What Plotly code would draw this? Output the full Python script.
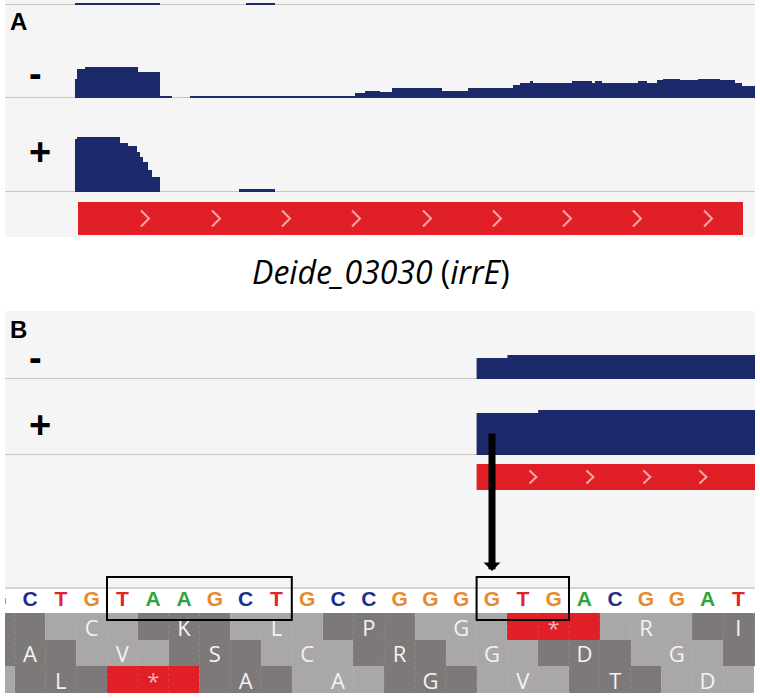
import plotly.graph_objects as go

W, H = 760, 698

# ---------------- DATA ----------------
# Panel A (positions along the irrE locus, relative units)
top_edges = [70, 155, 241, 270]
top_cov = [2, 0, 2]

minusA_edges = [70, 72, 80, 133, 155, 167, 185, 350, 360, 375, 387, 437, 463, 508, 515,
                525, 528, 567, 587, 590, 597, 633, 642, 652, 658, 675, 693, 715, 730, 737, 750]
minusA_cov = [19, 29, 31, 26, 2, 0, 2, 5, 7, 6, 10, 7, 10, 13, 15,
              17, 15, 17, 15, 17, 15, 17, 15, 18, 19, 18, 19, 18, 15, 12]

plusA_edges = [70, 72, 115, 123, 132, 135, 138, 143, 147, 155, 234, 270]
plusA_cov = [53, 55, 49, 46, 40, 35, 30, 22, 15, 0, 3]

geneA_start, geneA_end = 73, 738
geneA_chevrons = [140, 211, 281, 351, 422, 492, 562, 632, 703]

gene_label = "<i>Deide_03030</i> (<i>irrE</i>)"

# Panel B (base index)
seq_start = -1
sequence = "GCTGTAAGCTGCCGGGGTGACGGAT"

minusB_edges = [14.5, 15.5, 24.0]
minusB_cov = [21, 24]
plusB_edges = [14.5, 16.5, 24.0]
plusB_cov = [42, 45]

geneB_start, geneB_end = 14.5, 24.0
geneB_chevrons = [16.33, 18.18, 20.03, 21.85]

frame1_centers = [-1, 2, 5, 8, 11, 14, 17, 20, 23]
frame1_aa = ["", "C", "K", "L", "P", "G", "*", "R", "I"]
frame2_centers = [0, 3, 6, 9, 12, 15, 18, 21, 24]
frame2_aa = ["A", "V", "S", "C", "R", "G", "D", "G", ""]
frame3_centers = [-2, 1, 4, 7, 10, 13, 16, 19, 22]
frame3_aa = ["", "L", "*", "A", "A", "G", "V", "T", "D"]

boxes = [(3, 8), (15, 17)]   # boxed bases (first, last)
arrow_base = 15

# ---------------- STYLE ----------------
NAVY = "#1c2a6c"
RED = "#e01f27"
CHEV = "#f7a9a9"
BG = "#f5f5f5"
LINE = "#c6c6c6"
DARK = "#7d7979"
LIGHT = "#a9a7a7"
BASE_COL = {"A": "#2fa43a", "C": "#1f2e8e", "G": "#e8892f", "T": "#e3222a"}
AA_TEXT_DY = 0.14


def px(x):
    return x / W


def py(y):
    return 1 - y / H


def dom(top, bottom):
    return [py(bottom), py(top)]


BASE_PX, BASE0_PX = 30.8, 30.0
xB_range = [(5 - BASE0_PX) / BASE_PX, (755 - BASE0_PX) / BASE_PX]

fig = go.Figure()


def cov_trace(edges, cov, xa, ya):
    return go.Scatter(x=edges, y=list(cov) + [cov[-1]], mode="lines",
                      line=dict(shape="hv", width=0, color=NAVY),
                      fill="tozeroy", fillcolor=NAVY, xaxis=xa, yaxis=ya,
                      hoverinfo="skip", showlegend=False)


def gene_trace(s, e, xa, ya):
    return go.Scatter(x=[s, e, e, s, s], y=[0, 0, 1, 1, 0], mode="lines",
                      fill="toself", fillcolor=RED, line=dict(width=0, color=RED),
                      xaxis=xa, yaxis=ya, hoverinfo="skip", showlegend=False)


def chevron_trace(centers, w, h, xa, ya):
    xs, ys = [], []
    for c in centers:
        xs += [c - w, c + w, c - w, None]
        ys += [0.5 + h, 0.5, 0.5 - h, None]
    return go.Scatter(x=xs, y=ys, mode="lines", line=dict(color=CHEV, width=2),
                      xaxis=xa, yaxis=ya, hoverinfo="skip", showlegend=False)


# Panel A
fig.add_trace(cov_trace(top_edges, top_cov, "x", "y4"))
fig.add_trace(cov_trace(minusA_edges, minusA_cov, "x", "y"))
fig.add_trace(cov_trace(plusA_edges, plusA_cov, "x", "y2"))
fig.add_trace(gene_trace(geneA_start, geneA_end, "x", "y3"))
fig.add_trace(chevron_trace(geneA_chevrons, 4, 0.24, "x", "y3"))

# Panel B coverage + gene
fig.add_trace(cov_trace(minusB_edges, minusB_cov, "x2", "y5"))
fig.add_trace(cov_trace(plusB_edges, plusB_cov, "x2", "y6"))
fig.add_trace(gene_trace(geneB_start, geneB_end, "x2", "y7"))
fig.add_trace(chevron_trace(geneB_chevrons, 3.5 / BASE_PX, 0.25, "x2", "y7"))

# Sequence
seq_x = [seq_start + i for i in range(len(sequence))]
fig.add_trace(go.Scatter(x=seq_x, y=[0.5] * len(sequence), mode="text",
                         text=list(sequence),
                         textfont=dict(color=[BASE_COL[b] for b in sequence], size=21,
                                       family="Liberation Sans, Arial", weight="bold"),
                         xaxis="x2", yaxis="y8", hoverinfo="skip", showlegend=False))

# Translation frames
rows, bases, colors, tx, ty, tt, tc = [], [], [], [], [], [], []
for r, (cents, aas) in enumerate([(frame1_centers, frame1_aa),
                                  (frame2_centers, frame2_aa),
                                  (frame3_centers, frame3_aa)], start=1):
    for c, a in zip(cents, aas):
        rows.append(r)
        bases.append(c - 1.5)
        if a == "*":
            colors.append(RED)
        else:
            colors.append(DARK if ((c + 1) // 3) % 2 == 0 else LIGHT)
        tx.append(c)
        ty.append(r + AA_TEXT_DY)
        tt.append(a)
        tc.append("#f7b0b0" if a == "*" else "#f3f3f3")

fig.add_trace(go.Bar(orientation="h", y=rows, x=[3] * len(rows), base=bases, width=1,
                     marker=dict(color=colors, line=dict(width=0)),
                     xaxis="x2", yaxis="y9", hoverinfo="skip", showlegend=False))

sep_x, sep_y = [], []
for k in range(-2, 25):
    sep_x += [k + 0.5, k + 0.5, None]
    sep_y += [0.5, 3.5, None]
fig.add_trace(go.Scatter(x=sep_x, y=sep_y, mode="lines",
                         line=dict(color="rgba(255,255,255,0.13)", width=1, dash="dot"),
                         xaxis="x2", yaxis="y9", hoverinfo="skip", showlegend=False))

fig.add_trace(go.Scatter(x=tx, y=ty, mode="text", text=tt,
                         textfont=dict(color=tc, size=22, family="Open Sans"),
                         xaxis="x2", yaxis="y9", hoverinfo="skip", showlegend=False))

# ---------------- LAYOUT ----------------
hid = dict(visible=False, fixedrange=True)
layout = dict(
    width=W, height=H, margin=dict(l=0, r=0, t=0, b=0),
    paper_bgcolor="white", plot_bgcolor="rgba(0,0,0,0)",
    barmode="overlay", bargap=0, showlegend=False,
    xaxis=dict(domain=[px(5), px(755)], range=[0, 750], anchor="y", **hid),
    xaxis2=dict(domain=[px(5), px(755)], range=xB_range, anchor="y5", **hid),
    yaxis=dict(domain=dom(58, 98), range=[0, 40], anchor="x", **hid),
    yaxis2=dict(domain=dom(132, 192), range=[0, 60], anchor="x", **hid),
    yaxis3=dict(domain=dom(202, 235), range=[0, 1], anchor="x", **hid),
    yaxis4=dict(domain=dom(0, 5), range=[0, 5], anchor="x", **hid),
    yaxis5=dict(domain=dom(339, 379), range=[0, 40], anchor="x2", **hid),
    yaxis6=dict(domain=dom(400, 455), range=[0, 55], anchor="x2", **hid),
    yaxis7=dict(domain=dom(464, 490), range=[0, 1], anchor="x2", **hid),
    yaxis8=dict(domain=dom(589, 612), range=[0, 1], anchor="x2", **hid),
    yaxis9=dict(domain=dom(613, 693), range=[3.5, 0.5], anchor="x2", **hid),
)
fig.update_layout(**layout)

shapes = [
    dict(type="rect", xref="paper", yref="paper", x0=px(5), x1=px(755), y0=py(237), y1=py(0),
         fillcolor=BG, line=dict(width=0), layer="below"),
    dict(type="rect", xref="paper", yref="paper", x0=px(5), x1=px(755), y0=py(588), y1=py(311),
         fillcolor=BG, line=dict(width=0), layer="below"),
    dict(type="line", xref="paper", yref="paper", x0=px(5), x1=px(755), y0=py(588), y1=py(588),
         line=dict(color="#d4d4d4", width=2), layer="below"),
]
for ya in ["y4", "y", "y2", "y5", "y6"]:
    shapes.append(dict(type="line", xref="paper", yref=ya, x0=px(5), x1=px(755), y0=0, y1=0,
                       line=dict(color=LINE, width=2), layer="below"))
for b0, b1 in boxes:
    shapes.append(dict(type="rect", xref="x2", yref="paper", x0=b0 - 0.5, x1=b1 + 0.5,
                       y0=py(620), y1=py(577), line=dict(color="black", width=2),
                       fillcolor="rgba(0,0,0,0)", layer="above"))
fig.update_layout(shapes=shapes)

ann = []
lab = dict(family="Liberation Sans, Arial", color="black")
ann.append(dict(x=px(8), y=py(21), xref="paper", yref="paper", text="<b>A</b>", showarrow=False,
                xanchor="left", yanchor="middle", font=dict(size=24, **lab)))
ann.append(dict(x=px(8), y=py(330), xref="paper", yref="paper", text="<b>B</b>", showarrow=False,
                xanchor="left", yanchor="middle", font=dict(size=24, **lab)))
for (x, y, t) in [(35, 74, "-"), (40, 152, "+"), (35, 358, "-"), (40, 425, "+")]:
    ann.append(dict(x=px(x), y=py(y), xref="paper", yref="paper", text="<b>%s</b>" % t,
                    showarrow=False, xanchor="center", yanchor="middle",
                    font=dict(size=38, **lab)))
ann.append(dict(x=px(381), y=py(271), xref="paper", yref="paper", text=gene_label,
                showarrow=False, xanchor="center", yanchor="middle",
                font=dict(size=32, family="Open Sans", color="black")))
ann.append(dict(x=arrow_base, y=py(571), xref="x2", yref="paper", ax=0, ay=-139,
                text="", showarrow=True, arrowhead=1, arrowsize=0.4, arrowwidth=7,
                arrowcolor="black", standoff=0, startstandoff=0))
fig.update_layout(annotations=ann)

fig.write_html("out.html", config={"displayModeBar": False, "staticPlot": True},
               post_script="document.body.style.margin='0';document.body.style.padding='0';")
